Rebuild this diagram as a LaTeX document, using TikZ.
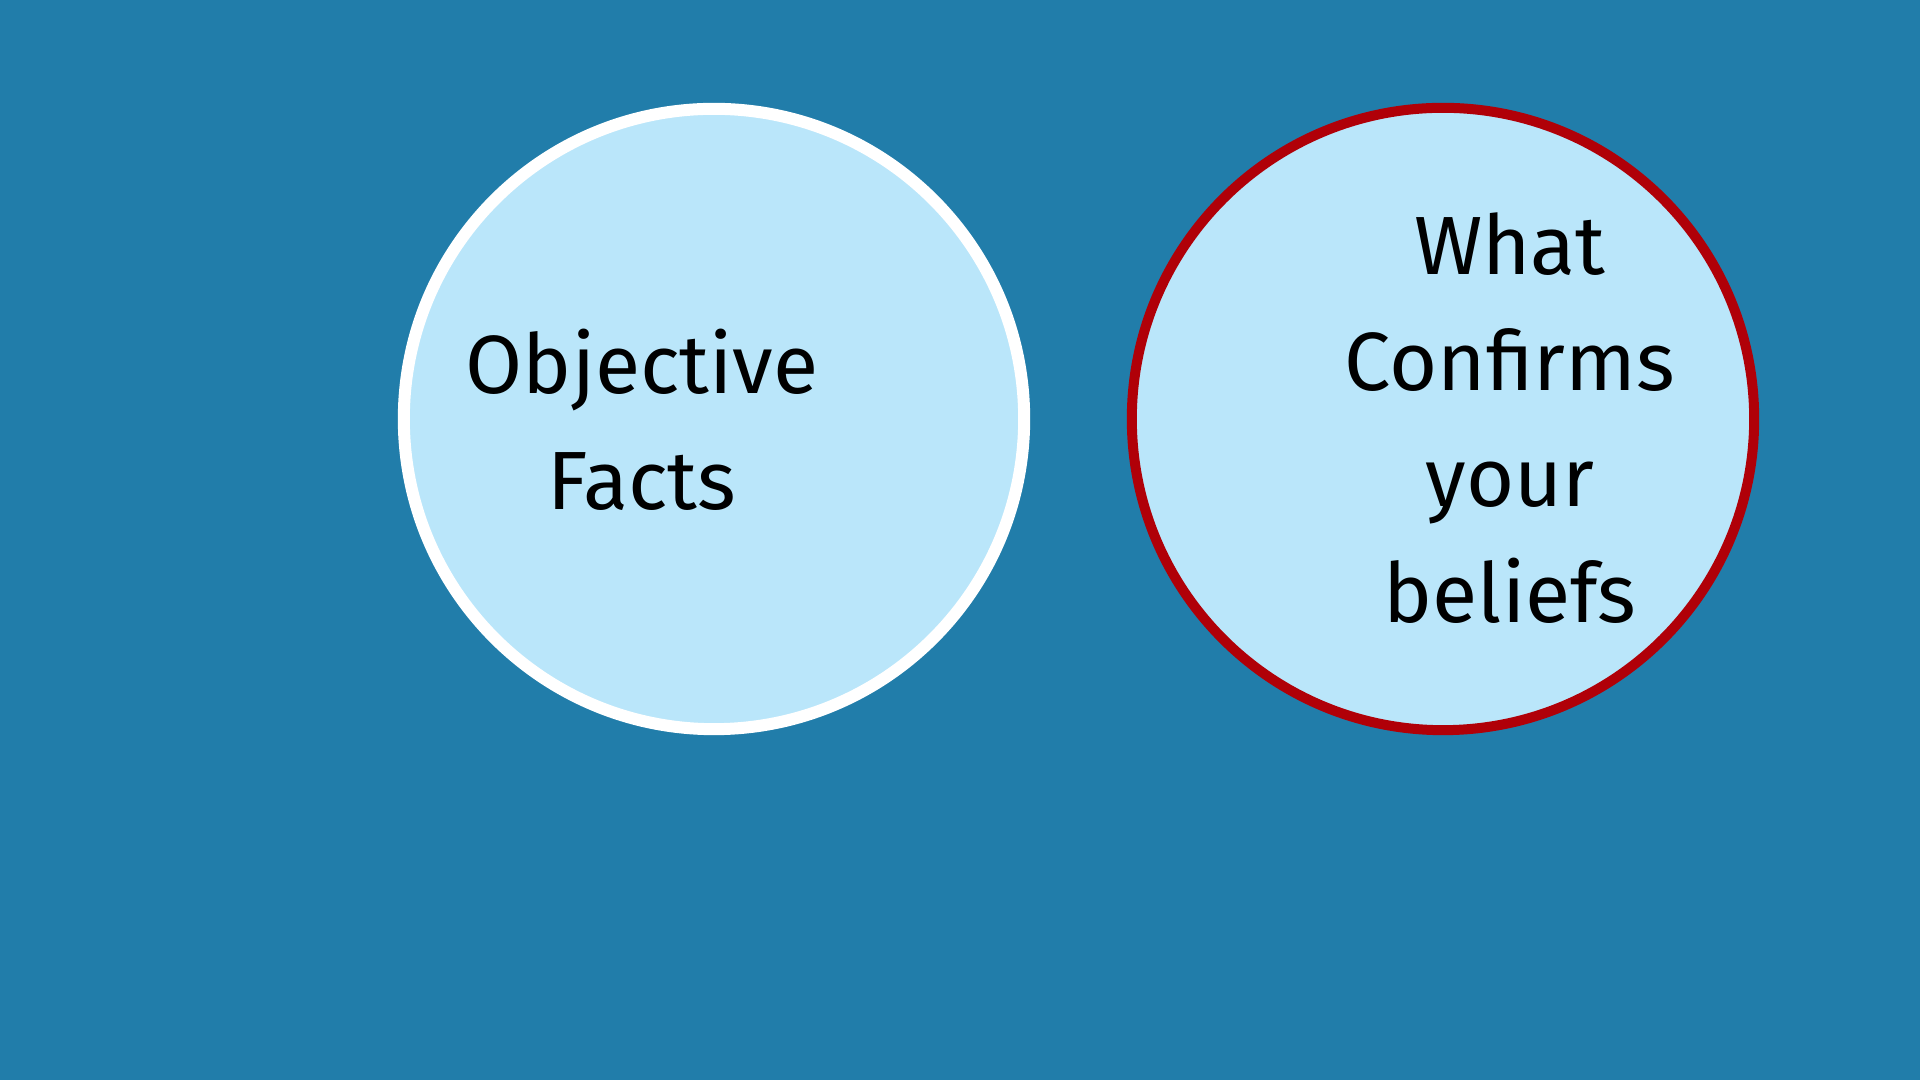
\documentclass[tikz,border=0pt]{standalone}
\usepackage{fontspec}
\setmainfont{Fira Sans}
\usepackage{xcolor}
\usetikzlibrary{positioning}

\definecolor{bgblue}{HTML}{217DAA}
\definecolor{bubblefill}{HTML}{BAE6FA}
\definecolor{beliefred}{HTML}{B00008}

\begin{document}
\begin{tikzpicture}[
    x=0.01cm, y=-0.01cm,
    bubble/.style={circle, fill=bubblefill, inner sep=0pt},
    label text/.style={align=center, text=black,
      font=\fontsize{23.5}{33}\selectfont},
  ]
  % background
  \fill[bgblue] (0,0) rectangle (1920,1080);
  \useasboundingbox (0,0) rectangle (1920,1080);

  \node[bubble, draw=white, line width=12*0.01cm, minimum size=6.20cm]
    (facts) at (714,419) {};
  \node[bubble, draw=beliefred, line width=10*0.01cm, minimum size=6.22cm]
    (beliefs) at (1443,419) {};

  \node[label text] (factstext) at (642,420) {Objective\\Facts};
  \node[label text] (beliefstext) at (1510,418) {What\\Confirms\\your\\beliefs};
\end{tikzpicture}
\end{document}
